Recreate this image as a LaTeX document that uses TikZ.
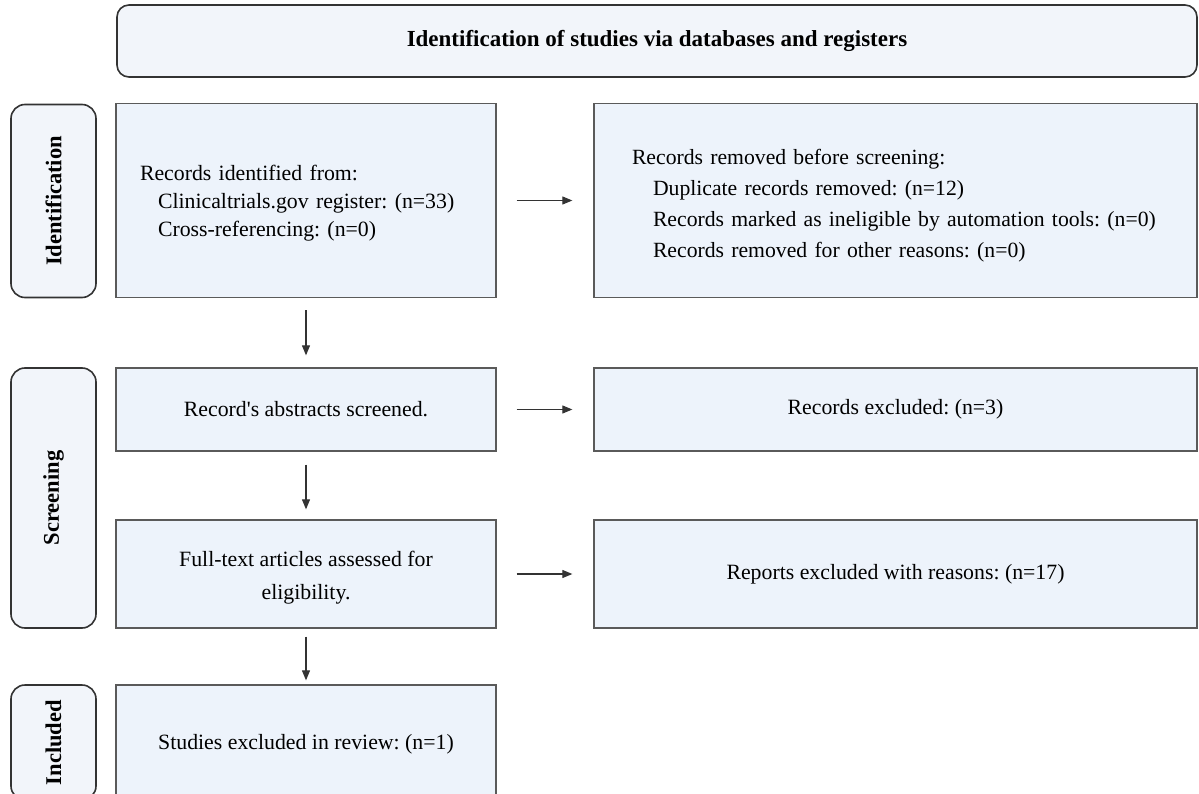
\documentclass[tikz,border=0pt]{standalone}
\usepackage{fontspec}
\setmainfont{Liberation Serif}
\usetikzlibrary{arrows.meta}
\definecolor{boxfill}{HTML}{EDF3FB}
\definecolor{hdrfill}{HTML}{F2F5FA}
\definecolor{boxline}{HTML}{5A5A5A}
\definecolor{lblline}{HTML}{333333}
\newcommand{\raiseline}[1]{\rule{0pt}{#1}}
\frenchspacing
\begin{document}
\begin{tikzpicture}[x=1pt,y=-1pt,
  stagebox/.style={draw=boxline, line width=1.3pt, fill=boxfill, inner sep=0pt, align=center, font=\frenchspacing\fontsize{21.8}{28}\selectfont},
  hdrbox/.style={draw=lblline, line width=1.6pt, fill=hdrfill, rounded corners=12pt, inner sep=0pt, font=\bfseries\fontsize{23}{26}\selectfont},
  lblbox/.style={draw=lblline, line width=1.6pt, fill=hdrfill, rounded corners=14pt, inner sep=0pt, rotate=90, font=\bfseries\fontsize{22.5}{26}\selectfont},
  arr/.style={-{Triangle[length=10pt,width=8pt]}, line width=1.1pt, draw=black!80}
]
\useasboundingbox (0,0) rectangle (1199,794);

\node[hdrbox, minimum width=1080pt, minimum height=72pt] (hdr) at (657,41) {Identification of studies via databases and registers};

\node[lblbox, minimum width=193pt, minimum height=85pt] (l1) at (53.5,201) {Identification};
\node[lblbox, minimum width=260pt, minimum height=85pt] (l2) at (53.5,498) {Screening};
\node[lblbox, minimum width=115pt, minimum height=85pt] (l3) at (53.5,742.5) {Included};

\node[stagebox, align=left, inner xsep=24pt, text width=332pt, minimum height=194pt] (b1) at (306,200.5)
  {\raiseline{20pt}Records identified from:\\
   \hspace*{18pt}Clinicaltrials.gov register: (n=33)\\
   \hspace*{18pt}Cross-referencing: (n=0)};
\node[stagebox, align=left, inner xsep=38pt, text width=527pt, minimum height=194pt, font=\frenchspacing\fontsize{21.7}{31}\selectfont] (b2) at (895.5,200.5)
  {\raiseline{25pt}Records removed before screening:\\
   \hspace*{21pt}Duplicate records removed: (n=12)\\
   \hspace*{21pt}Records marked as ineligible by automation tools: (n=0)\\
   \hspace*{21pt}Records removed for other reasons: (n=0)};

\node[stagebox, minimum width=380pt, minimum height=83pt] (b3) at (306,409.5) {Record\textquotesingle s abstracts screened.};
\node[stagebox, minimum width=603pt, minimum height=83pt] (b5) at (895.5,409.5) {Records excluded: (n=3)};

\node[stagebox, minimum width=380pt, minimum height=108pt, font=\frenchspacing\fontsize{21.8}{33}\selectfont] (b4) at (306,574) {\raiseline{23pt}Full-text articles assessed for\\eligibility.};
\node[stagebox, minimum width=603pt, minimum height=108pt] (b6) at (895.5,574) {Reports excluded with reasons: (n=17)};

\node[stagebox, minimum width=380pt, minimum height=115pt] (b7) at (306,742.5) {\raiseline{19pt}Studies excluded in review: (n=1)};

\draw[arr, shorten <=20pt, shorten >=21pt] (b1) -- (b2);
\draw[arr, shorten <=20pt, shorten >=21pt] (b3) -- (b5);
\draw[arr, shorten <=20pt, shorten >=21pt] (b4) -- (b6);
\draw[arr, shorten <=12pt, shorten >=12pt] (b1) -- (b3);
\draw[arr, shorten <=13pt, shorten >=10pt] (b3) -- (b4);
\draw[arr, shorten <=8pt, shorten >=4pt] (b4) -- (b7);
\end{tikzpicture}
\end{document}
